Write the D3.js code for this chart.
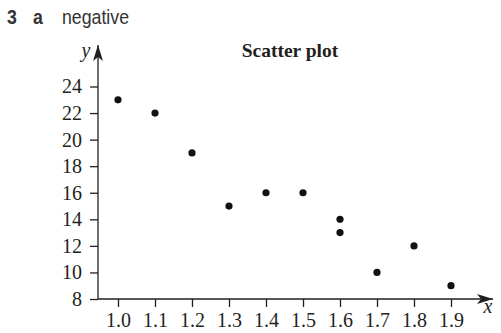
<!DOCTYPE html>
<html>
<head>
<meta charset="utf-8">
<script src="https://cdn.jsdelivr.net/npm/d3@7"></script>
<style>
  body { margin: 0; background: #fff; }
</style>
</head>
<body>
<script>
  // data
  const xValues = [1.0, 1.1, 1.2, 1.3, 1.4, 1.5, 1.6, 1.6, 1.7, 1.8, 1.9];
  const yValues = [23, 22, 19, 15, 16, 16, 14, 13, 10, 12, 9];
  const xTicks = [1.0, 1.1, 1.2, 1.3, 1.4, 1.5, 1.6, 1.7, 1.8, 1.9];
  const yTicks = [8, 10, 12, 14, 16, 18, 20, 22, 24];

  const width = 501, height = 333;
  const ink = "#231f20";
  const serif = "'Liberation Serif', 'DejaVu Serif', serif";

  const svg = d3.select("body").append("svg")
    .attr("width", width)
    .attr("height", height);

  // question label (condensed sans, squeezed horizontally)
  const sq = 0.91;
  const head = svg.append("g")
    .attr("transform", `scale(${sq},1)`)
    .append("text")
    .attr("y", 24)
    .style("font-family", "'Liberation Sans', Arial, sans-serif")
    .style("font-size", "19.5px")
    .attr("fill", "#333");
  head.append("tspan").attr("x", 7 / sq).style("font-weight", "bold").text("3");
  head.append("tspan").attr("x", 33 / sq).style("font-weight", "bold").text("a");
  head.append("tspan").attr("x", 62 / sq).text("negative");

  const sx = d3.scaleLinear().domain([1.0, 1.9]).range([118, 451]);
  const sy = d3.scaleLinear().domain([8, 24]).range([299, 86.5]);
  const x0 = 98, y0 = 299;

  // arrow marker
  svg.append("defs").append("marker")
    .attr("id", "arrow")
    .attr("markerWidth", 18)
    .attr("markerHeight", 12)
    .attr("refX", 16)
    .attr("refY", 5)
    .attr("orient", "auto")
    .attr("markerUnits", "userSpaceOnUse")
    .append("path")
    .attr("d", "M0,0 L16,5 L0,10 L4,5 z")
    .attr("fill", ink);

  // axes lines with arrows
  svg.append("line")
    .attr("x1", x0).attr("y1", y0).attr("x2", 493).attr("y2", y0)
    .attr("stroke", ink).attr("stroke-width", 1.3)
    .attr("marker-end", "url(#arrow)");
  svg.append("line")
    .attr("x1", x0).attr("y1", y0).attr("x2", x0).attr("y2", 45)
    .attr("stroke", ink).attr("stroke-width", 1.3)
    .attr("marker-end", "url(#arrow)");

  // x ticks
  const xAxis = svg.append("g")
    .attr("transform", `translate(0,${y0})`)
    .call(d3.axisBottom(sx).tickValues(xTicks).tickSize(8).tickPadding(6)
      .tickFormat(d3.format(".1f")));
  xAxis.select(".domain").remove();
  xAxis.selectAll("line").attr("stroke", ink).attr("stroke-width", 1.3);
  xAxis.selectAll("text")
    .attr("fill", ink)
    .style("font-family", serif)
    .style("font-size", "20px");

  // y ticks
  const yAxis = svg.append("g")
    .attr("transform", `translate(${x0},0)`)
    .call(d3.axisLeft(sy).tickValues(yTicks).tickSize(8).tickPadding(8));
  yAxis.select(".domain").remove();
  yAxis.selectAll("line").attr("stroke", ink).attr("stroke-width", 1.3);
  yAxis.selectAll("text")
    .attr("fill", ink)
    .style("font-family", serif)
    .style("font-size", "20px");

  // axis letters
  svg.append("text")
    .attr("x", 86).attr("y", 57)
    .attr("text-anchor", "middle")
    .style("font-family", serif)
    .style("font-style", "italic")
    .style("font-size", "20px")
    .attr("fill", ink)
    .text("y");
  svg.append("text")
    .attr("x", 488).attr("y", 313)
    .attr("text-anchor", "middle")
    .style("font-family", serif)
    .style("font-style", "italic")
    .style("font-size", "20px")
    .attr("fill", ink)
    .text("x");

  // title
  svg.append("text")
    .attr("x", 290).attr("y", 57)
    .attr("text-anchor", "middle")
    .style("font-family", serif)
    .style("font-weight", "bold")
    .style("font-size", "19.5px")
    .attr("fill", ink)
    .text("Scatter plot");

  // points
  svg.append("g").selectAll("circle")
    .data(xValues.map((x, i) => [x, yValues[i]]))
    .join("circle")
    .attr("cx", (d) => sx(d[0]))
    .attr("cy", (d) => sy(d[1]))
    .attr("r", 3.6)
    .attr("fill", "#111");
</script>
</body>
</html>
